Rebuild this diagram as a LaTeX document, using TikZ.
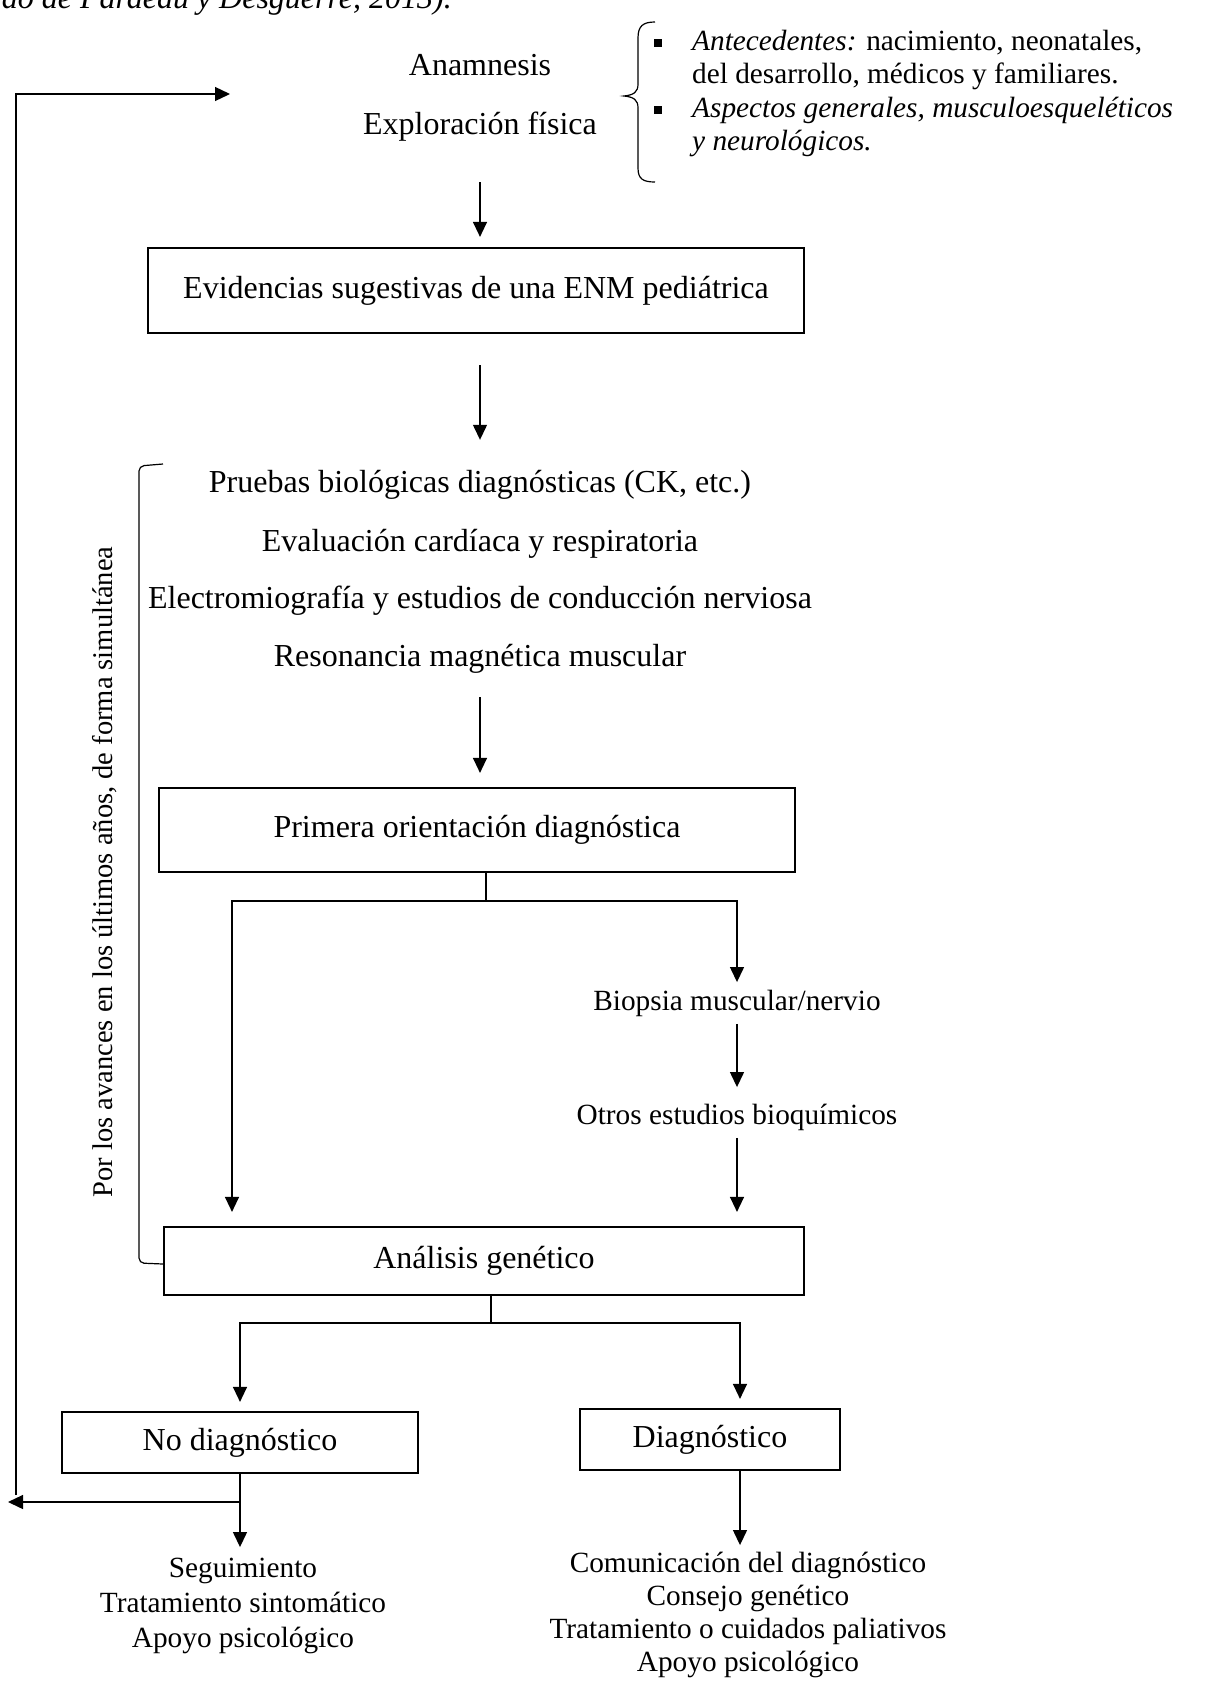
\documentclass[tikz,border=0pt]{standalone}
\usepackage{fontspec}
\setmainfont{Liberation Serif}
\usetikzlibrary{arrows.meta}
\newcommand{\bigsize}{\fontsize{32}{37}\selectfont}
\newcommand{\smallsize}{\fontsize{29.3}{33.7}\selectfont}
\tikzset{
  mainlbl/.style={inner sep=0pt,font=\bigsize,text height=23pt,text depth=7pt},
  sidelbl/.style={inner sep=0pt,font=\smallsize,text height=21pt,text depth=6.5pt},
  stage/.style={draw,line width=2.2pt,inner sep=0pt,font=\bigsize},
  wire/.style={line width=1.3pt},
  wirearrow/.style={wire,-{Triangle[length=15pt,width=14pt]}},
  sqbullet/.style={fill,minimum size=8pt,inner sep=0pt},
  brace/.style={line width=1.2pt},
}
\begin{document}
\begin{tikzpicture}[x=1pt,y=-1pt]
        % page frame
        \useasboundingbox (0,0) rectangle (1209,1681);
        \fill[white] (0,0) rectangle (1209,1681);

        % caption cut off at the top
        \node[mainlbl,anchor=base east,font=\bigsize\itshape] (cite) at (452,9) {ado de Pardeau y Desguerre, 2013).};

        % clinical history
        \node[mainlbl] (anam) at (480,67) {Anamnesis};
        \node[mainlbl] (expl) at (480,126) {Exploración física};

        % curly brace with the details
        \draw[brace] (655,22) .. controls (643,22) and (638,26) .. (638,38) -- (638,84)
              .. controls (638,92) and (634,95) .. (624,96)
              .. controls (634,97) and (638,100) .. (638,108) -- (638,168)
              .. controls (638,179) and (643,182) .. (655,182);
        \foreach \y/\txt [count=\i] in {
            43/{\textit{Antecedentes:} nacimiento, neonatales,},
            76/{del desarrollo, médicos y familiares.},
            110/{\textit{Aspectos generales, musculoesqueléticos}},
            143/{\textit{y neurológicos.}}}
                \node[sidelbl,anchor=west] (det\i) at (692,\y) {\txt};
        \foreach \i in {1,3}
                \node[sqbullet] (bul\i) at ([xshift=-34pt]det\i.west) {};

        % boxes of the main column
        \node[stage,minimum width=656pt,minimum height=85pt] (evid) at (476,290.5) {Evidencias sugestivas de una ENM pediátrica};
        \foreach \y/\txt [count=\i] in {
            484/{Pruebas biológicas diagnósticas (CK, etc.)},
            543/{Evaluación cardíaca y respiratoria},
            600/{Electromiografía y estudios de conducción nerviosa},
            658/{Resonancia magnética muscular}}
                \node[mainlbl] (test\i) at (480,\y) {\txt};
        \node[stage,minimum width=636pt,minimum height=84pt] (prim) at (477,830) {Primera orientación diagnóstica};
        \node[sidelbl] (biop) at (737,1003) {Biopsia muscular/nervio};
        \node[sidelbl] (otros) at (737,1117) {Otros estudios bioquímicos};
        \node[stage,minimum width=640pt,minimum height=68pt] (anal) at (484,1261) {Análisis genético};
        \node[stage,minimum width=356pt,minimum height=61pt] (nodiag) at (240,1442.5) {No diagnóstico};
        \node[stage,minimum width=260pt,minimum height=61pt] (diag) at (710,1439.5) {Diagnóstico};

        % outcomes
        \foreach \y/\txt [count=\i] in {1570/Seguimiento,1605/Tratamiento sintomático,1640/Apoyo psicológico}
                \node[sidelbl] (follow\i) at (243,\y) {\txt};
        \foreach \y/\txt [count=\i] in {
            1565/Comunicación del diagnóstico,
            1598/Consejo genético,
            1631/Tratamiento o cuidados paliativos,
            1664/Apoyo psicológico}
                \node[sidelbl] (care\i) at (748,\y) {\txt};

        % bracket and side note
        \draw[brace,rounded corners=5pt] (163,464) -- (139,466) -- (139,1263) -- (anal.west |- 0,1264);
        \node[sidelbl,rotate=90,font=\fontsize{28.5}{33}\selectfont] (note) at (105,872) {Por los avances en los últimos años, de forma simultánea};

        % arrows of the main column
        \draw[wirearrow,shorten <=41pt,shorten >=10pt] (expl.south) -- (expl.south |- evid.north);
        \draw[wirearrow,shorten <=31pt,shorten >=29pt] (evid.south -| test1) -- (test1.north);
        \draw[wirearrow,shorten <=24pt,shorten >=14pt] (test4.south) -- (test4.south |- prim.north);

        % first split
        \coordinate (fork1) at (486,901);
        \draw[wire] (prim.south -| fork1) -- (fork1);
        \draw[wirearrow,shorten >=14pt] (fork1) -| ([xshift=-252pt]anal.north);
        \draw[wirearrow,shorten >=7pt] (fork1) -| (biop.north);
        \draw[wirearrow,shorten <=7pt,shorten >=16pt] (biop.south) -- (otros.north);
        \draw[wirearrow,shorten <=7pt,shorten >=14pt] (otros.south) -- (otros.south |- anal.north);

        % second split
        \coordinate (fork2) at (491,1323);
        \draw[wire] (anal.south -| fork2) -- (fork2);
        \draw[wirearrow,shorten >=9pt] (fork2) -| (nodiag.north);
        \draw[wirearrow,shorten >=9pt] (fork2) -| ([xshift=30pt]diag.north);
        \draw[wirearrow,shorten >=9pt] (nodiag.south) -- (nodiag.south |- follow1.north);
        \draw[wirearrow,shorten >=6pt] ([xshift=30pt]diag.south) -- ([xshift=30pt]diag.south |- care1.north);

        % loop back to the start
        \coordinate (backtip) at (8,1502);
        \coordinate (loopfoot) at (16,1495);
        \coordinate (looptip) at (230,94);
        \draw[wirearrow] (nodiag.south |- backtip) -- (backtip);
        \draw[wirearrow] (loopfoot) |- (looptip);
\end{tikzpicture}
\end{document}
